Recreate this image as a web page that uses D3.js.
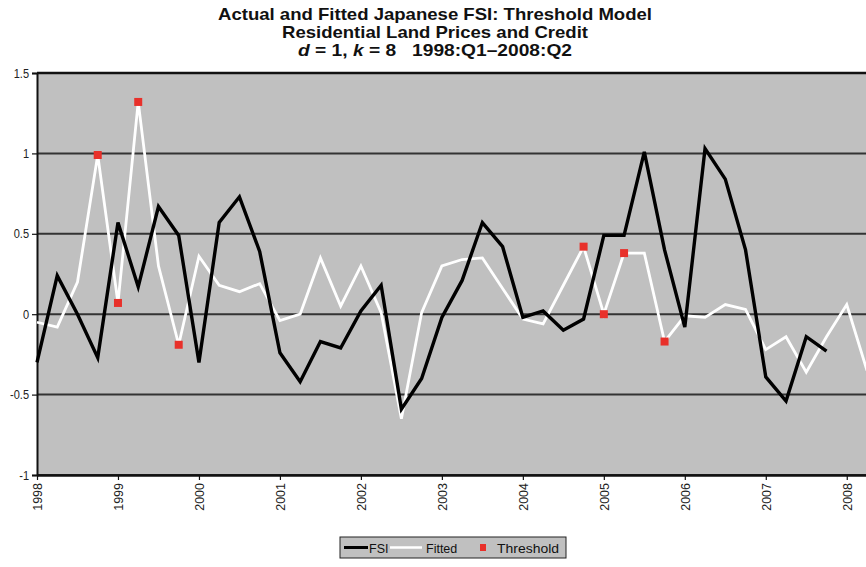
<!DOCTYPE html>
<html>
<head>
<meta charset="utf-8">
<script src="https://cdn.jsdelivr.net/npm/d3@7"></script>
<style>
  html, body { margin: 0; padding: 0; background: #fff; }
  svg { display: block; font-family: "Liberation Sans", Arial, sans-serif; }
</style>
</head>
<body>
<svg id="chart" width="866" height="567"></svg>
<script>
// Year labels on the category axis (one per four quarters, 1998:Q1 onward)
const yearLabels = ["1998","1999","2000","2001","2002","2003","2004","2005","2006","2007","2008"];

// Actual FSI, quarterly 1998:Q1–2007:Q4
const fsiValues = [-0.30, 0.24, 0.00, -0.27, 0.57, 0.17, 0.67, 0.49,
                   -0.30, 0.57, 0.73, 0.39, -0.24, -0.42, -0.17, -0.21,
                    0.02, 0.18, -0.59, -0.40, -0.02, 0.21, 0.57, 0.42,
                   -0.02, 0.02, -0.10, -0.03, 0.49, 0.49, 1.01, 0.40,
                   -0.08, 1.03, 0.84, 0.40, -0.39, -0.54, -0.14, -0.23];

// Fitted FSI from the threshold model, quarterly 1998:Q1–2008:Q2
const fittedValues = [-0.05, -0.08, 0.20, 0.99, 0.07, 1.32, 0.30, -0.19,
                       0.36, 0.18, 0.14, 0.19, -0.04, 0.00, 0.35, 0.05,
                       0.30, 0.01, -0.65, 0.01, 0.30, 0.34, 0.35, 0.16,
                      -0.03, -0.06, 0.18, 0.42, 0.00, 0.38, 0.38, -0.17,
                      -0.01, -0.02, 0.06, 0.03, -0.22, -0.14, -0.36, -0.14,
                       0.06, -0.35];

// Quarters (index from 1998:Q1) where the threshold regime switches, and fitted value there
const thresholdQuarters = [3, 4, 5, 7, 27, 28, 29, 31];
const thresholdValues   = [0.99, 0.07, 1.32, -0.19, 0.42, 0.00, 0.38, -0.17];

const yTicks = [1.5, 1, 0.5, 0, -0.5, -1];

const svg = d3.select("#chart");
const plot = { left: 37, right: 867, top: 73, bottom: 475 };

const x = d3.scaleLinear().domain([0, fittedValues.length - 1]).range([plot.left, plot.right]);
const y = d3.scaleLinear().domain([-1, 1.5]).range([plot.bottom, plot.top]);

// Title (condensed bold)
const title = svg.append("g").attr("font-weight", "bold").attr("text-anchor", "middle").attr("fill", "#111");
title.append("text").attr("x", 435).attr("y", 20).attr("font-size", 17)
  .attr("textLength", 434).attr("lengthAdjust", "spacingAndGlyphs")
  .text("Actual and Fitted Japanese FSI: Threshold Model");
title.append("text").attr("x", 435).attr("y", 38).attr("font-size", 17)
  .attr("textLength", 306).attr("lengthAdjust", "spacingAndGlyphs")
  .text("Residential Land Prices and Credit");
const t3 = title.append("text").attr("x", 435).attr("y", 56).attr("font-size", 17)
  .attr("textLength", 274).attr("lengthAdjust", "spacingAndGlyphs")
  .attr("xml:space", "preserve");
t3.append("tspan").attr("font-style", "italic").text("d");
t3.append("tspan").text(" = 1, ");
t3.append("tspan").attr("font-style", "italic").text("k");
t3.append("tspan").text(" = 8   1998:Q1\u20132008:Q2");

// Plot area background
svg.append("rect")
  .attr("x", plot.left).attr("y", plot.top)
  .attr("width", plot.right - plot.left).attr("height", plot.bottom - plot.top)
  .attr("fill", "#c0c0c0");

// Horizontal gridlines
svg.append("g").selectAll("line").data(yTicks).join("line")
  .attr("x1", plot.left).attr("x2", plot.right)
  .attr("y1", d => y(d)).attr("y2", d => y(d))
  .attr("stroke", d => d === 1.5 ? "#111" : "#333")
  .attr("stroke-width", d => d === 1.5 ? 2.5 : 2);

// Y axis
const yAxis = d3.axisLeft(y).tickValues(yTicks).tickSize(5).tickPadding(3)
  .tickFormat(d => String(d));
const gy = svg.append("g").attr("transform", `translate(${plot.left},0)`).call(yAxis);
gy.select(".domain").attr("stroke", "#111").attr("stroke-width", 2);
gy.selectAll(".tick line").attr("stroke", "#111").attr("stroke-width", 1.2);
gy.selectAll(".tick text").attr("font-size", 12.5).attr("fill", "#222")
  .attr("font-family", "'Liberation Sans', Arial, sans-serif")
  .attr("textLength", function () { return this.getComputedTextLength() * 0.88; })
  .attr("lengthAdjust", "spacingAndGlyphs");

// X axis: tick at each first quarter, labels rotated
const yearIdx = yearLabels.map((_, i) => i * 4);
const xAxis = d3.axisBottom(x).tickValues(yearIdx).tickSize(5).tickSizeOuter(0)
  .tickFormat((d, i) => yearLabels[i]);
const gx = svg.append("g").attr("transform", `translate(0,${plot.bottom})`).call(xAxis);
gx.select(".domain").attr("stroke", "#111").attr("stroke-width", 2.5);
gx.selectAll(".tick line").attr("stroke", "#111").attr("stroke-width", 1.2);
gx.selectAll(".tick text")
  .attr("font-size", 12.5).attr("fill", "#222")
  .attr("font-family", "'Liberation Sans', Arial, sans-serif")
  .attr("transform", "rotate(-90)")
  .attr("text-anchor", "end")
  .attr("x", -8).attr("y", 0).attr("dy", "0.35em");

// Series lines
const line = d3.line().x((d, i) => x(i)).y(d => y(d));
svg.append("path").datum(fittedValues)
  .attr("d", line).attr("fill", "none")
  .attr("stroke", "#ffffff").attr("stroke-width", 2.8).attr("stroke-linejoin", "miter");
svg.append("path").datum(fsiValues)
  .attr("d", line).attr("fill", "none")
  .attr("stroke", "#000000").attr("stroke-width", 3.4).attr("stroke-linejoin", "miter");

// Threshold markers
const sq = 8;
svg.append("g").selectAll("rect")
  .data(thresholdQuarters.map((q, i) => ({ q, v: thresholdValues[i] })))
  .join("rect")
  .attr("x", d => x(d.q) - sq / 2).attr("y", d => y(d.v) - sq / 2)
  .attr("width", sq).attr("height", sq)
  .attr("fill", "#e8302a");

// Legend
const lg = svg.append("g").attr("transform", "translate(340,537)");
lg.append("rect").attr("width", 226).attr("height", 21)
  .attr("fill", "#c0c0c0").attr("stroke", "#222").attr("stroke-width", 1);
lg.append("line").attr("x1", 4).attr("x2", 28).attr("y1", 10.5).attr("y2", 10.5)
  .attr("stroke", "#000").attr("stroke-width", 3);
lg.append("text").attr("x", 29).attr("y", 15.5).attr("font-size", 12.5).attr("fill", "#111")
  .text("FSI");
lg.append("line").attr("x1", 50).attr("x2", 82).attr("y1", 10.5).attr("y2", 10.5)
  .attr("stroke", "#fff").attr("stroke-width", 2.5);
lg.append("text").attr("x", 86).attr("y", 15.5).attr("font-size", 12.5).attr("fill", "#111")
  .text("Fitted");
lg.append("rect").attr("x", 140).attr("y", 7).attr("width", 6).attr("height", 7).attr("fill", "#e8302a");
lg.append("text").attr("x", 157).attr("y", 15.5).attr("font-size", 12.5).attr("fill", "#111")
  .attr("textLength", 62).attr("lengthAdjust", "spacingAndGlyphs").text("Threshold");
</script>
</body>
</html>
